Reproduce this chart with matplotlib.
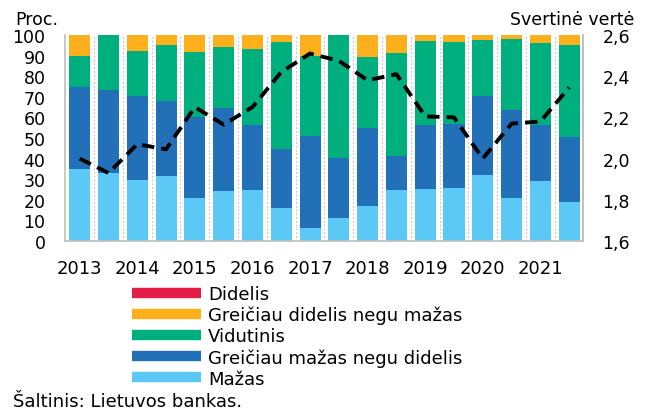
import numpy as np
import matplotlib
matplotlib.use("Agg")
import matplotlib.pyplot as plt
from matplotlib.lines import Line2D
from matplotlib.ticker import FuncFormatter

# half-year periods, 2013 H1 ... 2021 H2
years = ["2013", "2014", "2015", "2016", "2017", "2018", "2019", "2020", "2021"]

mazas = [34.8, 33.2, 29.5, 31.6, 20.7, 24.1, 24.6, 15.9, 6.2,
         11.0, 16.9, 24.6, 25.3, 25.6, 31.8, 20.9, 29.0, 19.0]
greiciau_mazas = [40.1, 39.9, 40.7, 36.5, 39.6, 40.6, 31.5, 29.0, 45.0,
                  29.5, 38.0, 16.7, 30.8, 31.3, 38.4, 42.8, 27.1, 31.6]
vidutinis = [14.7, 26.9, 22.2, 27.2, 31.6, 29.6, 37.1, 51.7, 38.8,
             59.5, 34.6, 50.1, 41.1, 39.9, 27.4, 34.5, 40.2, 44.4]
greiciau_didelis = [10.4, 0.0, 7.6, 4.7, 8.1, 5.7, 6.8, 3.4, 10.0,
                    0.0, 10.5, 8.6, 2.8, 3.2, 2.4, 1.8, 3.7, 5.0]
didelis = [0.0] * 18

svertine = [2.00, 1.93, 2.07, 2.045, 2.25, 2.165, 2.25, 2.42, 2.51,
            2.475, 2.38, 2.41, 2.205, 2.20, 2.00, 2.17, 2.18, 2.345]

c_mazas = "#5BC8F5"
c_gm = "#2270B8"
c_vid = "#00AF7E"
c_gd = "#FDB01B"
c_did = "#E31C48"

plt.rcParams["font.family"] = ["DejaVu Sans"]
plt.rcParams["font.size"] = 13

fig = plt.figure(figsize=(6.45, 4.14), dpi=100)
W, H = 645, 414
ax = fig.add_axes([65 / W, 1 - 242 / H, (583 - 65) / W, (242 - 36) / H])

x = np.arange(len(mazas))
bw = 0.73
bottom = np.zeros(len(x))
for vals, col in [(mazas, c_mazas), (greiciau_mazas, c_gm), (vidutinis, c_vid),
                  (greiciau_didelis, c_gd), (didelis, c_did)]:
    ax.bar(x, vals, bw, bottom=bottom, color=col, zorder=2)
    bottom += np.array(vals)

for xi in x[:-1] + 0.5:
    ax.axvline(xi, color="#C8C8C8", lw=0.9, ls=(0, (1.5, 1.5)), zorder=1)

ax.set_xlim(-0.51, 17.48)
ax.set_ylim(0, 100)
ax.set_yticks(range(0, 101, 10))
ax.set_xticks(x[::2])
ax.set_xticklabels(years)
ax.tick_params(axis="x", length=0, pad=13)
ax.tick_params(axis="y", length=0, pad=14, labelsize=12.5)
for s in ["left", "bottom", "right"]:
    ax.spines[s].set_color("#BFBFBF")
    ax.spines[s].set_linewidth(1.2)
ax.spines["top"].set_visible(False)

ax2 = ax.twinx()
ax2.plot(x, svertine, color="black", lw=2.8, ls=(0, (3.2, 1.8)), zorder=3)
ax2.set_ylim(1.6, 2.6)
ax2.set_yticks(np.arange(1.6, 2.61, 0.2))
ax2.yaxis.set_major_formatter(FuncFormatter(lambda v, p: f"{v:.1f}".replace(".", ",")))
ax2.tick_params(axis="y", length=0, pad=14, labelsize=12.5)
for s in ["left", "bottom", "top"]:
    ax2.spines[s].set_visible(False)
ax2.spines["right"].set_color("#BFBFBF")
ax2.spines["right"].set_linewidth(1.2)

fig.text(15 / W, 1 - 20 / H, "Proc.", va="center", ha="left", fontsize=12.5)
fig.text(634 / W, 1 - 20 / H, "Svertinė vertė", va="center", ha="right", fontsize=12.5)

handles = [Line2D([], [], color=c, lw=7.5, solid_capstyle="butt")
           for c in [c_did, c_gd, c_vid, c_gm, c_mazas]]
labels = ["Didelis", "Greičiau didelis negu mažas", "Vidutinis",
          "Greičiau mažas negu didelis", "Mažas"]
fig.legend(handles, labels, loc="upper left", bbox_to_anchor=(132 / W, 1 - 286 / H),
           frameon=False, handlelength=3.8, handletextpad=0.4, labelspacing=0.16,
           borderpad=0, borderaxespad=0)

fig.text(13 / W, 1 - 402 / H, "Šaltinis: Lietuvos bankas.", va="center", ha="left")

fig.savefig("out.png", dpi=100)
